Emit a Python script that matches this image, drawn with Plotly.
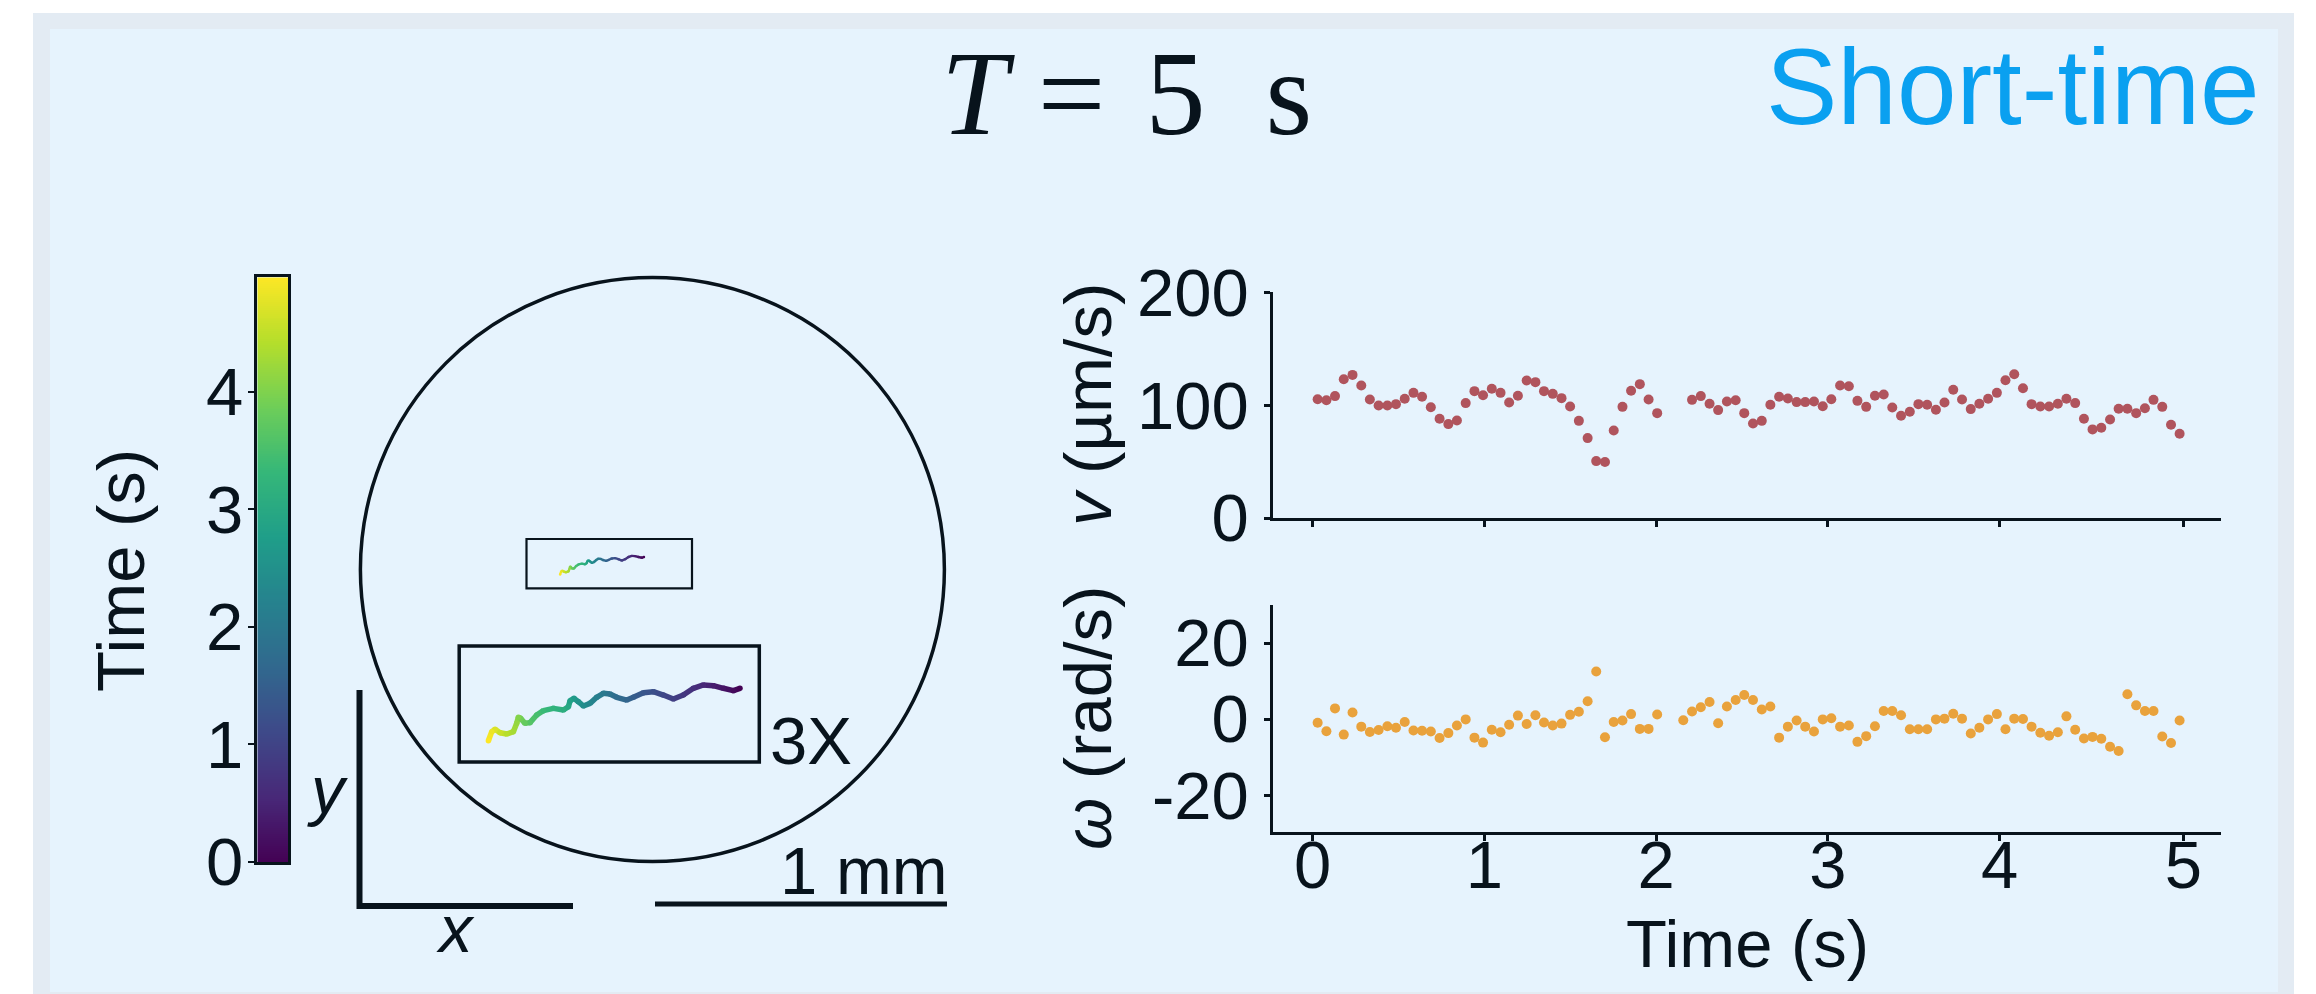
import numpy as np
import plotly.graph_objects as go
from plotly.colors import sample_colorscale

W, H = 2316, 994

# ---------------- data ----------------
time_s = [0.029, 0.080, 0.130, 0.181, 0.232, 0.283, 0.333, 0.384, 0.435, 0.485,
          0.536, 0.587, 0.637, 0.688, 0.739, 0.790, 0.840, 0.891, 0.942, 0.992,
          1.043, 1.094, 1.144, 1.195, 1.246, 1.297, 1.347, 1.398, 1.449, 1.499,
          1.550, 1.601, 1.651, 1.702, 1.753, 1.804, 1.854, 1.905, 1.956, 2.006,
          2.057, 2.108, 2.158, 2.209, 2.260, 2.311, 2.361, 2.412, 2.463, 2.513,
          2.564, 2.615, 2.665, 2.716, 2.767, 2.818, 2.868, 2.919, 2.970, 3.020,
          3.071, 3.122, 3.172, 3.223, 3.274, 3.325, 3.375, 3.426, 3.477, 3.527,
          3.578, 3.629, 3.679, 3.730, 3.781, 3.832, 3.882, 3.933, 3.984, 4.034,
          4.085, 4.136, 4.186, 4.237, 4.288, 4.339, 4.389, 4.440, 4.491, 4.541,
          4.592, 4.643, 4.693, 4.744, 4.795, 4.846, 4.896, 4.947, 4.998, 5.048]

speed_um_s = [105.3, 104.4, 108.0, 123.0, 126.8, 117.4, 105.0, 99.7, 99.7, 100.9,
              105.6, 110.9, 107.4, 98.2, 87.9, 83.2, 86.4, 101.8, 112.4, 108.8,
              114.5, 110.9, 102.4, 108.3, 121.8, 120.4, 112.4, 110.0, 106.2, 98.8,
              86.1, 70.8, 50.4, 49.6, 77.6, 98.5, 112.7, 118.6, 105.0, 92.9,
              None, None, None, 104.7, 108.0, 101.2, 95.6, 103.2, 104.4, 92.9,
              83.8, 86.1, 100.3, 107.4, 105.9, 102.7, 102.7, 103.2, 99.1, 105.3,
              117.4, 116.8, 103.8, 98.5, 108.3, 109.4, 97.9, 90.6, 94.1, 100.9,
              100.3, 95.9, 102.4, 113.6, 105.0, 96.5, 101.2, 105.6, 110.9, 122.1,
              127.4, 115.0, 100.9, 98.8, 98.8, 101.2, 105.6, 101.8, 87.9, 78.5,
              79.9, 87.3, 96.8, 96.8, 92.9, 97.3, 104.7, 98.5, 82.6, 74.6]

omega_rad_s = [-1.0, -3.2, 2.8, -4.1, 1.7, -2.0, -3.4, -2.9, -1.9, -2.3,
               -0.8, -3.0, -3.1, -3.3, -5.0, -3.7, -1.7, -0.1, -4.9, -6.2,
               -2.8, -3.5, -1.5, 0.9, -1.3, 1.0, -0.9, -1.7, -1.2, 1.1,
               1.9, 4.7, 12.5, -4.8, -0.8, -0.4, 1.3, -2.6, -2.6, 1.2,
               None, None, -0.3, 2.0, 3.1, 4.5, -1.1, 3.3, 5.0, 6.3,
               5.0, 2.5, 3.3, -4.9, -2.0, -0.4, -2.0, -3.3, -0.1, 0.2,
               -2.0, -1.7, -6.0, -4.5, -1.9, 2.1, 2.1, 1.0, -2.7, -2.7,
               -2.7, -0.1, 0.1, 1.4, 0.1, -3.8, -2.3, -0.1, 1.3, -2.7,
               0.1, 0.0, -2.0, -3.6, -4.4, -3.5, 0.7, -2.8, -5.1, -4.7,
               -5.2, -7.3, -8.4, 6.5, 3.6, 2.1, 2.1, -4.6, -6.3, -0.4]

time_tickvals = [0, 1, 2, 3, 4, 5.07]
time_ticktext = ["0", "1", "2", "3", "4", "5"]
speed_ticks = [0, 100, 200]
omega_tickvals = [-20, 0, 20]
omega_ticktext = ["-20", "0", "20"]
cbar_ticks = [0, 1, 2, 3, 4]
T_MAX = 4.97

# trajectory (mm, relative to dish centre) and its time stamps (s)
traj_x_mm = [-0.0288, -0.0364, -0.0478, -0.0592, -0.0706, -0.0820, -0.0935, -0.1049, -0.1163, -0.1277,
             -0.1391, -0.1505, -0.1581, -0.1696, -0.1772, -0.1848, -0.1924, -0.2000, -0.2076, -0.2133,
             -0.2183, -0.2228, -0.2247, -0.2304, -0.2418, -0.2533, -0.2609, -0.2685, -0.2742, -0.2792,
             -0.2818, -0.2837, -0.2875, -0.2951, -0.3027, -0.3084, -0.3122, -0.3160]
traj_y_mm = [0.0432, 0.0405, 0.0432, 0.0462, 0.0470, 0.0432, 0.0355, 0.0310, 0.0355, 0.0393,
             0.0382, 0.0329, 0.0298, 0.0329, 0.0367, 0.0375, 0.0329, 0.0260, 0.0230, 0.0279,
             0.0317, 0.0291, 0.0222, 0.0184, 0.0203, 0.0177, 0.0127, 0.0040, 0.0032, 0.0089,
             0.0101, 0.0032, -0.0063, -0.0090, -0.0075, -0.0036, -0.0063, -0.0166]
traj_t_s = [0.00, 0.13, 0.27, 0.40, 0.54, 0.67, 0.81, 0.94, 1.07, 1.21,
            1.34, 1.48, 1.61, 1.75, 1.88, 2.01, 2.15, 2.28, 2.42, 2.55,
            2.69, 2.82, 2.95, 3.09, 3.22, 3.36, 3.49, 3.63, 3.76, 3.89,
            4.03, 4.16, 4.30, 4.43, 4.57, 4.70, 4.84, 4.97]
MAG = 3
MAG_OFFSET = (0.3864, -0.5361)

# ---------------- styling ----------------
INK = "#08131c"
SANS = "Liberation Sans, Arial, Helvetica, sans-serif"
SERIF = "Liberation Serif, Times New Roman, serif"
FS = 67
SPEED_COLOR = "#b0545d"
OMEGA_COLOR = "#e9a23c"

# px helpers
def px_x(p):
    return p / W

def px_y(p):
    return 1 - p / H

# left panel geometry (mm <-> px)
PPM = 292.0
CX, CY = 652.4, 569.6
L_X0, L_X1, L_Y0, L_Y1 = 300, 1000, 260, 960

def mx(p):
    return (p - CX) / PPM

def my(p):
    return -(p - CY) / PPM

fig = go.Figure()

# right-hand scatter plots
fig.add_trace(go.Scatter(x=time_s, y=speed_um_s, mode="markers", xaxis="x", yaxis="y",
                         marker=dict(color=SPEED_COLOR, size=10, line=dict(width=0)),
                         showlegend=False, hoverinfo="skip"))
fig.add_trace(go.Scatter(x=time_s, y=omega_rad_s, mode="markers", xaxis="x2", yaxis="y2",
                         marker=dict(color=OMEGA_COLOR, size=10, line=dict(width=0)),
                         showlegend=False, hoverinfo="skip"))
# transparent copy that carries the tick-label axis of the bottom panel
fig.add_trace(go.Scatter(x=time_s, y=omega_rad_s, mode="markers", xaxis="x5", yaxis="y2",
                         marker=dict(color=OMEGA_COLOR, size=10, opacity=0),
                         showlegend=False, hoverinfo="skip"))

# colour bar as a heatmap
cb_vals = np.linspace(0, T_MAX, 300)
fig.add_trace(go.Heatmap(z=[[v] for v in cb_vals], x=[0], y=cb_vals, colorscale="Viridis",
                         zmin=0, zmax=T_MAX, showscale=False, xaxis="x4", yaxis="y4",
                         hoverinfo="skip"))


def add_traj(xs, ys, ts, width):
    for k in range(len(xs) - 1):
        tm = 0.5 * (ts[k] + ts[k + 1])
        c = sample_colorscale("Viridis", [tm / T_MAX])[0]
        fig.add_trace(go.Scatter(x=[xs[k], xs[k + 1]], y=[ys[k], ys[k + 1]], mode="lines",
                                 line=dict(color=c, width=width), xaxis="x3", yaxis="y3",
                                 showlegend=False, hoverinfo="skip"))
    fig.add_trace(go.Scatter(x=xs, y=ys, mode="markers", xaxis="x3", yaxis="y3",
                             marker=dict(color=ts, colorscale="Viridis", cmin=0, cmax=T_MAX,
                                         size=width, line=dict(width=0)),
                             showlegend=False, hoverinfo="skip"))


add_traj(traj_x_mm, traj_y_mm, traj_t_s, 2.4)
big_x = [MAG * v + MAG_OFFSET[0] for v in traj_x_mm]
big_y = [MAG * v + MAG_OFFSET[1] for v in traj_y_mm]
add_traj(big_x, big_y, traj_t_s, 5.5)

AX = dict(showline=True, linewidth=2.5, linecolor=INK, ticks="outside", ticklen=6,
          tickwidth=2.5, tickcolor=INK, showgrid=False, zeroline=False, automargin=False,
          tickfont=dict(family=SANS, size=FS, color=INK))

X_DOM = [px_x(1273), px_x(2221)]
X_RANGE = [-0.231, 5.289]

fig.update_layout(
    width=W, height=H, autosize=False,
    margin=dict(l=0, r=0, t=0, b=0, pad=0, autoexpand=False),
    showlegend=False,
    paper_bgcolor="white", plot_bgcolor="rgba(0,0,0,0)",
    xaxis=dict(domain=X_DOM, range=X_RANGE, anchor="y", tickvals=time_tickvals,
               showticklabels=False, **AX),
    yaxis=dict(domain=[px_y(518), px_y(292.3)], range=[0, 200], anchor="x",
               tickvals=speed_ticks, ticklabelstandoff=2, **AX),
    # bottom time axis: line + ticks
    xaxis2=dict(domain=X_DOM, range=X_RANGE, anchor="y2", tickvals=time_tickvals,
                showticklabels=False, **AX),
    # bottom time axis: tick labels (overlay, set slightly higher)
    xaxis5=dict(domain=X_DOM, range=X_RANGE, overlaying="x2", anchor="free",
                position=px_y(820), tickvals=time_tickvals, ticktext=time_ticktext,
                showline=False, ticks="", showgrid=False, zeroline=False, automargin=False,
                tickfont=dict(family=SANS, size=FS, color=INK)),
    yaxis2=dict(domain=[px_y(832.3), px_y(605)], range=[-29.8, 30], anchor="x2",
                tickvals=omega_tickvals, ticktext=omega_ticktext,
                ticklabelstandoff=2, **AX),
    xaxis3=dict(domain=[px_x(L_X0), px_x(L_X1)], range=[mx(L_X0), mx(L_X1)], visible=False,
                anchor="y3", automargin=False),
    yaxis3=dict(domain=[px_y(L_Y1), px_y(L_Y0)], range=[my(L_Y1), my(L_Y0)], visible=False,
                anchor="x3", automargin=False),
    xaxis4=dict(domain=[px_x(257.3), px_x(288)], range=[-0.5, 0.5], anchor="y4",
                showline=True, mirror=True, linewidth=2.5, linecolor=INK, ticks="",
                showticklabels=False, showgrid=False, zeroline=False, automargin=False),
    yaxis4=dict(domain=[px_y(862), px_y(277.4)], range=[0, T_MAX], anchor="x4",
                showline=True, mirror=True, linewidth=2.5, linecolor=INK, ticks="outside",
                ticklen=7, tickwidth=2.2, tickcolor=INK, tickvals=cbar_ticks,
                ticklabelstandoff=-9, showgrid=False, zeroline=False, automargin=False,
                tickfont=dict(family=SANS, size=FS, color=INK)),
)

shapes = [
    dict(type="rect", xref="paper", yref="paper", x0=px_x(33), x1=px_x(2294),
         y0=px_y(1000), y1=px_y(13), fillcolor="#e3ebf3", line=dict(width=0), layer="below"),
    dict(type="rect", xref="paper", yref="paper", x0=px_x(50), x1=px_x(2278),
         y0=px_y(992), y1=px_y(29), fillcolor="#e6f3fd", line=dict(width=0), layer="below"),
    dict(type="circle", xref="x3", yref="y3", x0=-1, x1=1, y0=-1, y1=1,
         line=dict(color=INK, width=3.5)),
    dict(type="rect", xref="x3", yref="y3", x0=mx(526.5), x1=mx(692), y0=my(588.4), y1=my(539),
         line=dict(color=INK, width=2.2)),
    dict(type="rect", xref="x3", yref="y3", x0=mx(459.2), x1=mx(759.3), y0=my(762), y1=my(646),
         line=dict(color=INK, width=3.5)),
    dict(type="line", xref="x3", yref="y3", x0=mx(655), x1=mx(947), y0=my(904), y1=my(904),
         line=dict(color=INK, width=5)),
    dict(type="path", xref="x3", yref="y3",
         path=f"M {mx(359.5)},{my(690)} L {mx(359.5)},{my(906)} L {mx(573)},{my(906)}",
         line=dict(color=INK, width=6)),
]
fig.update_layout(shapes=shapes)


def ann(text, xpx, ypx, size=FS, family=SANS, color=INK, xanchor="center",
        yanchor="middle", angle=0):
    return dict(text=text, x=px_x(xpx), y=px_y(ypx), xref="paper", yref="paper",
                showarrow=False, xanchor=xanchor, yanchor=yanchor, textangle=angle,
                font=dict(family=family, size=size, color=color))


annotations = [
    ann("<i>T</i> =\u20045\u2002s", 1126, 94, size=120, family=SERIF),
    ann("Short-time", 2262, 86.5, size=107, color="#0aa0f0", xanchor="right"),
    ann("Time (s)", 120, 570, angle=-90),
    ann("<i>y</i>", 327, 789),
    ann("<i>x</i>", 455, 928),
    ann("3X", 768, 740, xanchor="left"),
    ann("1 mm", 950, 870, xanchor="right"),
    ann("<i>v</i> (\u00b5m/s)", 1087, 405, angle=-90),
    ann("<i>\u03c9</i> (rad/s)", 1087, 718, angle=-90),
    ann("Time (s)", 1747, 943),
]
fig.update_layout(annotations=annotations)

fig.write_html("out.html")
